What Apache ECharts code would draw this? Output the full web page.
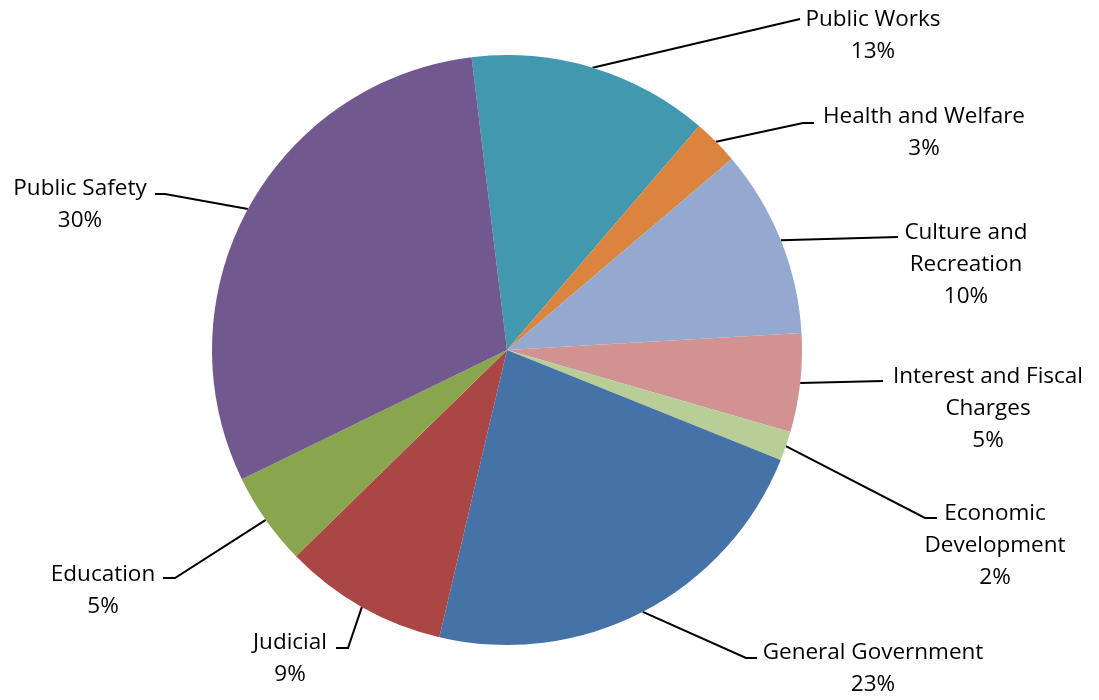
<!DOCTYPE html>
<html><head><meta charset="utf-8">
<script src="https://cdn.jsdelivr.net/npm/echarts/dist/echarts.min.js"></script>
<style>html,body{margin:0;padding:0;background:#fff}#c{width:1099px;height:700px}</style>
</head><body><div id="c"></div>
<script>
// ---- data ----
const categories = ['Public Works','Health and Welfare','Culture and Recreation','Interest and Fiscal Charges','Economic Development','General Government','Judicial','Education','Public Safety'];
const labelNames = ['Public Works','Health and Welfare','Culture and\nRecreation','Interest and Fiscal\nCharges','Economic\nDevelopment','General Government','Judicial','Education','Public Safety'];
const values = [13.2, 2.5, 10.3, 5.4, 1.6, 22.6, 9.0, 5.1, 30.3];
const colors = ['#4198AF','#DB843D','#93A9CF','#D19392','#B9CD96','#4572A7','#AA4643','#89A54E','#71588F'];

// ---- label placement (layout only) ----
const labelPlace = [
  {x: 873, y: 36,  tail: [[800, 19]]},
  {x: 924, y: 133, tail: [[803, 123], [814, 123]]},
  {x: 966, y: 265, tail: [[898, 237]]},
  {x: 988, y: 409, tail: [[883, 381]]},
  {x: 995, y: 546, tail: [[925, 518], [937, 518]]},
  {x: 873, y: 669, tail: [[746, 658], [757, 658]]},
  {x: 290, y: 659, tail: [[348, 648], [336, 648]]},
  {x: 103, y: 591, tail: [[175, 578], [163, 578]]},
  {x: 80,  y: 205, tail: [[165, 194], [155, 194]]}
];
const CX = 507, CY = 350, R = 295;

const chart = echarts.init(document.getElementById('c'), null, {renderer: 'canvas'});
chart.setOption({
  animation: false,
  backgroundColor: '#fff',
  series: [{
    type: 'pie',
    center: [CX, CY],
    radius: R,
    startAngle: 96.9,
    clockwise: true,
    avoidLabelOverlap: false,
    minAngle: 0,
    itemStyle: {borderWidth: 0},
    data: categories.map((c, i) => ({name: c, value: values[i], itemStyle: {color: colors[i]}})),
    label: {
      show: true,
      position: 'outside',
      color: '#000',
      fontFamily: 'Open Sans',
      fontSize: 22.5,
      lineHeight: 32,
      align: 'center',
      formatter: p => labelNames[p.dataIndex] + '\n' + Math.round(p.percent) + '%'
    },
    labelLine: {show: true, length: 10, length2: 10, lineStyle: {color: '#000', width: 2}},
    labelLayout: function (params) {
      const lp = labelPlace[params.dataIndex];
      let start = params.labelLinePoints && params.labelLinePoints[0];
      return {
        x: lp.x, y: lp.y, align: 'center', verticalAlign: 'middle',
        labelLinePoints: [start].concat(lp.tail)
      };
    },
    emphasis: {disabled: true}
  }]
});
</script></body></html>
